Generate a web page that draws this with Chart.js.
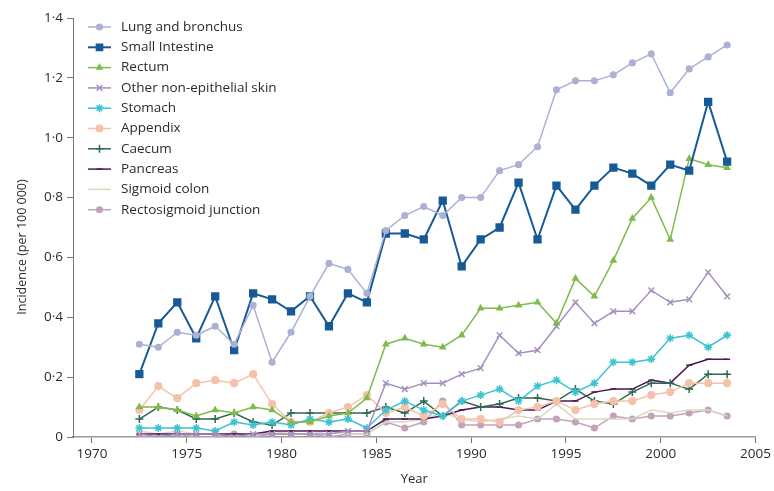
<!DOCTYPE html>
<html>
<head>
<meta charset="utf-8">
<script src="https://cdn.jsdelivr.net/npm/chart.js@4.4.0/dist/chart.umd.min.js"></script>
<style>
  html, body { margin: 0; padding: 0; background: #fff; }
  #wrap { width: 774px; height: 491px; }
</style>
</head>
<body>
<div id="wrap"><canvas id="incidenceChart" width="774" height="491"></canvas></div>
<script>
// mid-year positions, 1972-2003
const years = [1972.5, 1973.5, 1974.5, 1975.5, 1976.5, 1977.5, 1978.5, 1979.5, 1980.5, 1981.5,
               1982.5, 1983.5, 1984.5, 1985.5, 1986.5, 1987.5, 1988.5, 1989.5, 1990.5, 1991.5,
               1992.5, 1993.5, 1994.5, 1995.5, 1996.5, 1997.5, 1998.5, 1999.5, 2000.5, 2001.5,
               2002.5, 2003.5];
const xTicks = [1970, 1975, 1980, 1985, 1990, 1995, 2000, 2005];
const yTicks = [0, 0.2, 0.4, 0.6, 0.8, 1.0, 1.2, 1.4];
const yTickLabels = ['0', '0·2', '0·4', '0·6', '0·8', '1·0', '1·2', '1·4'];

const lung = [0.31, 0.30, 0.35, 0.34, 0.37, 0.31, 0.44, 0.25, 0.35, 0.47, 0.58, 0.56, 0.48, 0.69, 0.74, 0.77,
              0.74, 0.80, 0.80, 0.89, 0.91, 0.97, 1.16, 1.19, 1.19, 1.21, 1.25, 1.28, 1.15, 1.23, 1.27, 1.31];
const smallIntestine = [0.21, 0.38, 0.45, 0.33, 0.47, 0.29, 0.48, 0.46, 0.42, 0.47, 0.37, 0.48, 0.45, 0.68, 0.68, 0.66,
              0.79, 0.57, 0.66, 0.70, 0.85, 0.66, 0.84, 0.76, 0.84, 0.90, 0.88, 0.84, 0.91, 0.89, 1.12, 0.92];
const rectum = [0.10, 0.10, 0.09, 0.07, 0.09, 0.08, 0.10, 0.09, 0.05, 0.05, 0.07, 0.08, 0.13, 0.31, 0.33, 0.31,
              0.30, 0.34, 0.43, 0.43, 0.44, 0.45, 0.38, 0.53, 0.47, 0.59, 0.73, 0.80, 0.66, 0.93, 0.91, 0.90];
const skin = [0.01, 0.00, 0.01, 0.01, 0.01, 0.00, 0.01, 0.01, 0.01, 0.01, 0.01, 0.02, 0.02, 0.18, 0.16, 0.18,
              0.18, 0.21, 0.23, 0.34, 0.28, 0.29, 0.37, 0.45, 0.38, 0.42, 0.42, 0.49, 0.45, 0.46, 0.55, 0.47];
const stomach = [0.03, 0.03, 0.03, 0.03, 0.02, 0.05, 0.04, 0.05, 0.04, 0.06, 0.05, 0.06, 0.03, 0.09, 0.12, 0.09,
              0.07, 0.12, 0.14, 0.16, 0.12, 0.17, 0.19, 0.15, 0.18, 0.25, 0.25, 0.26, 0.33, 0.34, 0.30, 0.34];
const appendix = [0.09, 0.17, 0.13, 0.18, 0.19, 0.18, 0.21, 0.11, 0.05, 0.05, 0.08, 0.10, 0.14, 0.08, 0.10, 0.07,
              0.11, 0.06, 0.06, 0.05, 0.09, 0.10, 0.12, 0.09, 0.11, 0.12, 0.12, 0.14, 0.15, 0.18, 0.18, 0.18];
const caecum = [0.06, 0.10, 0.09, 0.06, 0.06, 0.08, 0.05, 0.04, 0.08, 0.08, 0.08, 0.08, 0.08, 0.10, 0.08, 0.12,
              0.07, 0.12, 0.10, 0.11, 0.13, 0.13, 0.12, 0.16, 0.12, 0.11, 0.15, 0.18, 0.18, 0.16, 0.21, 0.21];
const pancreas = [0.01, 0.01, 0.01, 0.01, 0.01, 0.01, 0.01, 0.02, 0.02, 0.02, 0.02, 0.02, 0.02, 0.06, 0.06, 0.06,
              0.07, 0.09, 0.10, 0.10, 0.09, 0.09, 0.12, 0.12, 0.15, 0.16, 0.16, 0.19, 0.18, 0.24, 0.26, 0.26];
const sigmoid = [0.02, 0.01, 0.02, 0.01, 0.01, 0.01, 0.01, 0.02, 0.01, 0.01, 0.02, 0.01, 0.01, 0.05, 0.05, 0.06,
              0.08, 0.06, 0.05, 0.06, 0.07, 0.06, 0.11, 0.06, 0.06, 0.06, 0.06, 0.09, 0.08, 0.09, 0.09, 0.07];
const rectosigmoid = [0.00, 0.00, 0.01, 0.00, 0.00, 0.01, 0.00, 0.01, 0.01, 0.01, 0.00, 0.01, 0.01, 0.05, 0.03, 0.05,
              0.12, 0.04, 0.04, 0.04, 0.04, 0.06, 0.06, 0.05, 0.03, 0.07, 0.06, 0.07, 0.07, 0.08, 0.09, 0.07];

const FONT = "'Open Sans', sans-serif";
const TEXT = '#2b2b2b';

function series(label, values, color, pointStyle, radius, width) {
    return {
        label: label,
        data: values.map((v, i) => ({ x: years[i], y: v })),
        borderColor: color,
        backgroundColor: color,
        borderWidth: width || 1.5,
        pointStyle: pointStyle,
        pointRadius: radius,
        pointBorderWidth: 1.5,
        pointHoverRadius: radius,
        tension: 0
    };
}

const datasets = [
    series('Lung and bronchus', lung, '#abb1d5', 'circle', 2.8),
    series('Small Intestine', smallIntestine, '#175a96', 'rect', 4.8, 2),
    series('Rectum', rectum, '#80bb4e', 'triangle', 3),
    series('Other non-epithelial skin', skin, '#a58fbe', 'crossRot', 4),
    series('Stomach', stomach, '#3cc3d2', 'star', 4),
    series('Appendix', appendix, '#f6c1aa', 'circle', 3.3),
    series('Caecum', caecum, '#2e6a50', 'cross', 4),
    series('Pancreas', pancreas, '#4b1a55', 'line', 3),
    series('Sigmoid colon', sigmoid, '#d9dcbc', false, 0),
    series('Rectosigmoid junction', rectosigmoid, '#c3a3b9', 'circle', 2.8)
];

// legend drawn inside the plot (line + marker) and the y title placed like the original
const insideLegend = {
    id: 'insideLegend',
    afterDraw(chart) {
        const ctx = chart.ctx;
        ctx.save();
        ctx.font = '13.5px ' + FONT;
        ctx.textBaseline = 'middle';
        chart.data.datasets.forEach((ds, i) => {
            const y = 27 + i * 20.3;
            ctx.strokeStyle = ds.borderColor;
            ctx.lineWidth = ds.borderWidth;
            ctx.beginPath();
            ctx.moveTo(88, y);
            ctx.lineTo(111, y);
            ctx.stroke();
            if (ds.pointStyle) {
                ctx.fillStyle = ds.backgroundColor;
                Chart.helpers.drawPoint(ctx, {
                    pointStyle: ds.pointStyle,
                    radius: Math.min(ds.pointRadius, 4),
                    borderWidth: 1.5,
                    rotation: 0
                }, 99.5, y);
            }
            ctx.fillStyle = TEXT;
            ctx.fillText(ds.label, 121, y);
        });
        ctx.translate(22, 247);
        ctx.rotate(-Math.PI / 2);
        ctx.textAlign = 'center';
        ctx.font = '12.5px ' + FONT;
        ctx.fillText('Incidence (per 100 000)', 0, 0);
        ctx.restore();
    }
};

new Chart(document.getElementById('incidenceChart').getContext('2d'), {
    type: 'line',
    data: { datasets: datasets },
    options: {
        responsive: false,
        animation: false,
        layout: { padding: { top: 18, right: 17, left: 0, bottom: 0 } },
        plugins: {
            legend: { display: false },
            tooltip: { enabled: false }
        },
        scales: {
            x: {
                type: 'linear',
                min: 1969,
                max: 2005,
                afterBuildTicks: scale => { scale.ticks = xTicks.map(v => ({ value: v })); },
                afterFit: scale => { scale.height = 54; },
                border: { color: '#9a9a9a', width: 1.5 },
                grid: { drawOnChartArea: false, drawTicks: true, tickLength: 6, color: '#777', lineWidth: 1 },
                ticks: { color: TEXT, font: { family: FONT, size: 13.5 }, padding: 3, maxRotation: 0,
                         callback: v => String(v) },
                title: { display: true, text: 'Year', color: TEXT, font: { family: FONT, size: 13 }, padding: { top: 2 } }
            },
            y: {
                min: 0,
                max: 1.4,
                afterBuildTicks: scale => { scale.ticks = yTicks.map(v => ({ value: v })); },
                afterFit: scale => { scale.width = 73; },
                border: { color: '#777', width: 1 },
                grid: { drawOnChartArea: false, drawTicks: true, tickLength: 6, color: '#777' },
                ticks: { color: TEXT, font: { family: FONT, size: 13.5 }, padding: 4,
                         callback: (v) => yTickLabels[yTicks.indexOf(Math.round(v * 10) / 10)] }
            }
        }
    },
    plugins: [insideLegend]
});
</script>
</body>
</html>
